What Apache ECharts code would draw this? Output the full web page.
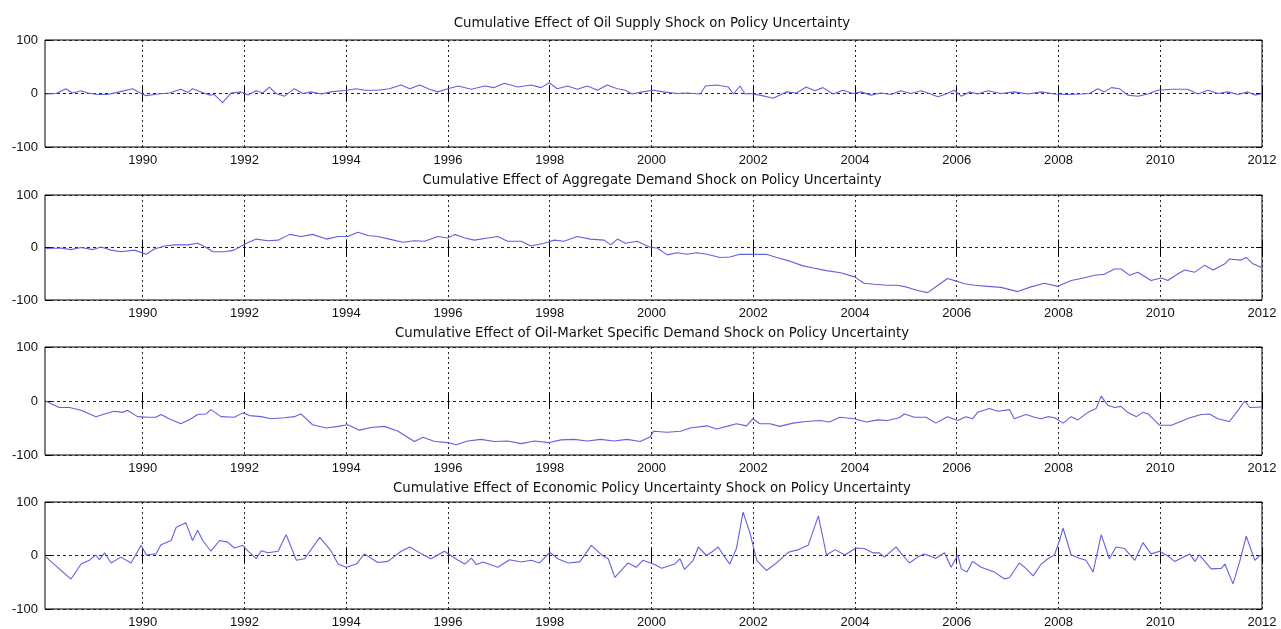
<!DOCTYPE html>
<html>
<head>
<meta charset="utf-8">
<script src="https://cdn.jsdelivr.net/npm/echarts@6/dist/echarts.min.js"></script>
<style>html,body{margin:0;padding:0;background:#fff;}#c{width:1281px;height:629px;}</style>
</head>
<body>
<div id="c"></div>
<script>
// ---- Data (decimal year, value) ----
const titles = [
  'Cumulative Effect of Oil Supply Shock on Policy Uncertainty',
  'Cumulative Effect of Aggregate Demand Shock on Policy Uncertainty',
  'Cumulative Effect of Oil-Market Specific Demand Shock on Policy Uncertainty',
  'Cumulative Effect of Economic Policy Uncertainty Shock on Policy Uncertainty'
];
const yearTicks = [1990, 1992, 1994, 1996, 1998, 2000, 2002, 2004, 2006, 2008, 2010, 2012];
const yTicks = [-100, 0, 100];

const oilSupply = [
  [1988.1,-1],[1988.3,0],[1988.49,9],[1988.62,1],[1988.79,5],[1988.92,1],[1989.11,-2],[1989.31,-2],
  [1989.54,3],[1989.8,9],[1989.97,0],[1990.07,-4],[1990.3,-1],[1990.52,1],[1990.75,8],[1990.89,2],
  [1990.98,9],[1991.15,3],[1991.31,-3],[1991.41,-2],[1991.57,-17],[1991.74,1],[1991.93,3],[1992.07,-3],
  [1992.23,5],[1992.36,1],[1992.49,12],[1992.62,0],[1992.79,-5],[1992.98,9],[1993.15,0],[1993.31,3],
  [1993.51,-1],[1993.7,3],[1994.0,6],[1994.2,9],[1994.36,6],[1994.62,6],[1994.85,9],[1995.08,16],
  [1995.25,9],[1995.44,16],[1995.64,8],[1995.8,3],[1996.0,9],[1996.2,14],[1996.46,8],[1996.72,14],
  [1996.91,11],[1997.11,19],[1997.37,12],[1997.63,16],[1997.83,11],[1997.99,20],[1998.15,9],[1998.35,14],
  [1998.54,8],[1998.74,14],[1998.94,6],[1999.13,16],[1999.33,9],[1999.49,6],[1999.62,-1],[1999.82,3],
  [2000.04,6],[2000.24,3],[2000.5,0],[2000.7,1],[2000.96,-1],[2001.06,14],[2001.28,16],[2001.51,12],
  [2001.61,-1],[2001.74,14],[2001.84,-1],[2001.94,0],[2002.13,-3],[2002.39,-9],[2002.65,3],[2002.85,1],
  [2003.04,12],[2003.21,5],[2003.37,11],[2003.57,-1],[2003.76,6],[2003.96,0],[2004.12,3],[2004.31,-3],
  [2004.51,1],[2004.71,-2],[2004.9,5],[2005.1,0],[2005.3,5],[2005.46,0],[2005.63,-6],[2005.79,-1],
  [2005.95,6],[2006.09,-5],[2006.25,3],[2006.41,-1],[2006.61,5],[2006.87,0],[2007.13,3],[2007.4,-1],
  [2007.66,3],[2007.92,-1],[2008.18,-2],[2008.45,-1],[2008.61,0],[2008.77,9],[2008.9,3],[2009.04,11],
  [2009.2,9],[2009.36,-3],[2009.56,-5],[2009.76,-1],[2009.95,6],[2010.22,8],[2010.54,8],[2010.74,-1],
  [2010.94,6],[2011.13,0],[2011.33,3],[2011.53,-2],[2011.72,3],[2011.86,-3],[2012.0,0]
];

const aggDemand = [
  [1988.1,-2],[1988.39,-1],[1988.59,-4],[1988.79,0],[1989.02,-4],[1989.18,1],[1989.38,-5],[1989.57,-8],
  [1989.84,-5],[1990.07,-13],[1990.23,-3],[1990.43,3],[1990.62,5],[1990.89,5],[1991.08,8],[1991.25,0],
  [1991.38,-8],[1991.61,-8],[1991.8,-5],[1992.0,6],[1992.23,16],[1992.46,13],[1992.66,14],[1992.89,25],
  [1993.11,21],[1993.34,25],[1993.61,16],[1993.84,21],[1994.03,21],[1994.23,29],[1994.43,23],[1994.62,21],
  [1994.85,16],[1995.11,10],[1995.34,13],[1995.54,12],[1995.8,21],[1996.0,18],[1996.13,25],[1996.33,18],
  [1996.52,14],[1996.78,18],[1996.98,21],[1997.17,12],[1997.44,12],[1997.63,3],[1997.89,8],[1998.09,14],
  [1998.28,12],[1998.54,21],[1998.8,16],[1999.07,14],[1999.2,5],[1999.33,16],[1999.49,8],[1999.72,12],
  [1999.98,0],[2000.11,-1],[2000.31,-14],[2000.5,-10],[2000.7,-13],[2000.89,-10],[2001.09,-13],[2001.35,-19],
  [2001.54,-18],[2001.74,-13],[2002.0,-13],[2002.26,-13],[2002.46,-19],[2002.72,-26],[2002.98,-35],[2003.18,-39],
  [2003.44,-44],[2003.72,-48],[2003.99,-56],[2004.18,-68],[2004.38,-70],[2004.64,-72],[2004.84,-72],[2005.04,-76],
  [2005.23,-82],[2005.43,-86],[2005.63,-72],[2005.82,-59],[2005.99,-64],[2006.15,-69],[2006.35,-72],[2006.61,-74],
  [2006.87,-76],[2007.2,-84],[2007.46,-75],[2007.72,-68],[2007.99,-74],[2008.25,-63],[2008.45,-59],[2008.71,-53],
  [2008.9,-51],[2009.1,-41],[2009.23,-41],[2009.4,-53],[2009.56,-47],[2009.82,-63],[2010.02,-58],[2010.15,-63],
  [2010.35,-50],[2010.48,-43],[2010.68,-47],[2010.87,-34],[2011.04,-43],[2011.27,-31],[2011.36,-22],[2011.59,-24],
  [2011.69,-19],[2011.82,-31],[2011.99,-38]
];

const oilSpecific = [
  [1988.1,0],[1988.2,-5],[1988.36,-12],[1988.56,-12],[1988.79,-17],[1989.08,-29],[1989.25,-24],[1989.44,-19],
  [1989.61,-21],[1989.7,-17],[1989.9,-29],[1990.1,-30],[1990.26,-30],[1990.36,-25],[1990.52,-33],[1990.75,-42],
  [1990.95,-33],[1991.08,-25],[1991.25,-24],[1991.34,-16],[1991.54,-29],[1991.8,-30],[1991.97,-22],[1992.1,-27],
  [1992.33,-29],[1992.52,-33],[1992.79,-31],[1992.98,-29],[1993.11,-24],[1993.34,-44],[1993.61,-50],[1993.84,-47],
  [1994.03,-44],[1994.26,-54],[1994.49,-49],[1994.75,-47],[1995.02,-56],[1995.34,-75],[1995.51,-67],[1995.74,-75],
  [1996.0,-77],[1996.16,-81],[1996.39,-74],[1996.65,-71],[1996.91,-75],[1997.17,-74],[1997.44,-79],[1997.7,-74],
  [1997.99,-77],[1998.22,-72],[1998.48,-71],[1998.74,-74],[1999.0,-71],[1999.26,-74],[1999.52,-71],[1999.78,-75],
  [1999.98,-66],[2000.04,-56],[2000.31,-58],[2000.57,-56],[2000.76,-50],[2001.09,-46],[2001.28,-52],[2001.48,-47],
  [2001.67,-42],[2001.87,-46],[2001.99,-33],[2002.13,-42],[2002.33,-42],[2002.52,-47],[2002.78,-41],[2003.04,-38],
  [2003.31,-36],[2003.5,-39],[2003.7,-30],[2003.99,-33],[2004.22,-39],[2004.45,-35],[2004.64,-36],[2004.87,-31],
  [2004.97,-24],[2005.17,-30],[2005.4,-30],[2005.59,-41],[2005.82,-29],[2006.02,-36],[2006.18,-29],[2006.31,-33],
  [2006.41,-21],[2006.64,-14],[2006.81,-19],[2007.04,-16],[2007.13,-33],[2007.36,-25],[2007.53,-30],[2007.66,-33],
  [2007.79,-29],[2007.92,-31],[2008.09,-41],[2008.25,-29],[2008.38,-35],[2008.58,-21],[2008.74,-14],[2008.84,9],
  [2008.97,-8],[2009.1,-12],[2009.23,-10],[2009.36,-21],[2009.53,-29],[2009.66,-21],[2009.76,-24],[2009.99,-45],
  [2010.22,-45],[2010.45,-36],[2010.58,-31],[2010.81,-25],[2010.97,-24],[2011.13,-33],[2011.36,-38],[2011.5,-21],
  [2011.66,0],[2011.76,-12],[2012.0,-11]
];

const epuShock = [
  [1988.1,-3],[1988.59,-44],[1988.79,-16],[1988.95,-9],[1989.08,1],[1989.15,-8],[1989.25,5],[1989.38,-14],
  [1989.57,-3],[1989.77,-14],[1989.97,19],[1990.07,1],[1990.26,3],[1990.36,20],[1990.56,28],[1990.66,53],
  [1990.85,61],[1990.98,28],[1991.08,47],[1991.18,28],[1991.34,8],[1991.51,28],[1991.67,25],[1991.8,14],
  [1991.97,19],[1992.07,8],[1992.23,-6],[1992.33,9],[1992.46,5],[1992.66,8],[1992.82,39],[1993.02,-9],
  [1993.18,-6],[1993.48,34],[1993.7,9],[1993.84,-16],[1994.0,-22],[1994.2,-16],[1994.36,3],[1994.62,-13],
  [1994.82,-11],[1995.08,8],[1995.25,16],[1995.48,3],[1995.67,-6],[1995.93,8],[1996.2,-9],[1996.33,-16],
  [1996.46,-5],[1996.56,-17],[1996.69,-12],[1996.98,-22],[1997.21,-8],[1997.44,-12],[1997.64,-9],[1997.8,-14],
  [1998.0,6],[1998.16,-6],[1998.36,-14],[1998.59,-12],[1998.82,19],[1999.02,1],[1999.15,-6],[1999.28,-41],
  [1999.54,-14],[1999.7,-22],[1999.83,-9],[2000.06,-17],[2000.2,-24],[2000.46,-16],[2000.56,-6],[2000.65,-26],
  [2000.82,-9],[2000.92,16],[2001.08,0],[2001.18,6],[2001.31,16],[2001.44,-3],[2001.54,-16],[2001.67,13],
  [2001.8,81],[2001.93,44],[2002.07,-9],[2002.26,-28],[2002.43,-16],[2002.69,6],[2002.89,11],[2003.08,19],
  [2003.28,74],[2003.44,1],[2003.61,11],[2003.8,1],[2004.02,14],[2004.18,13],[2004.35,5],[2004.48,5],
  [2004.58,-3],[2004.81,16],[2004.9,5],[2005.07,-14],[2005.23,-3],[2005.36,3],[2005.59,-5],[2005.76,5],
  [2005.89,-22],[2006.02,1],[2006.09,-25],[2006.2,-31],[2006.31,-11],[2006.48,-22],[2006.74,-31],[2006.94,-44],
  [2007.04,-41],[2007.23,-14],[2007.36,-24],[2007.5,-38],[2007.66,-16],[2007.79,-6],[2007.92,1],[2008.02,28],
  [2008.09,51],[2008.25,1],[2008.41,-5],[2008.54,-9],[2008.68,-31],[2008.84,39],[2009.0,-6],[2009.13,16],
  [2009.3,13],[2009.5,-9],[2009.66,24],[2009.82,3],[2009.99,8],[2010.15,-1],[2010.28,-11],[2010.41,-5],
  [2010.58,3],[2010.68,-11],[2010.77,1],[2011.0,-25],[2011.2,-24],[2011.27,-16],[2011.43,-53],[2011.56,-12],
  [2011.69,36],[2011.86,-9],[2011.95,0],[2012.0,-1]
];

const seriesData = [oilSupply, aggDemand, oilSpecific, epuShock];

// ---- Layout ----
const xMin = 1988.08, xMax = 2012;
const gridTops = [40, 195, 347, 502];
const gridHeights = [107, 105, 108, 107];
const titleTops = [12, 169, 322, 477];
const plotLeft = 45, plotRight = 19;
const lineColor = '#6262dc';
const font = '"Liberation Sans", Arial, Helvetica, sans-serif';
const titleFont = '"DejaVu Sans", "Liberation Sans", sans-serif';

const grids = [], xAxes = [], yAxes = [], series = [], titleArr = [];
for (let i = 0; i < 4; i++) {
  grids.push({ left: plotLeft, right: plotRight, top: gridTops[i], height: gridHeights[i],
    show: true, borderColor: '#000', borderWidth: 1, backgroundColor: '#fff' });
  titleArr.push({ text: titles[i], left: 647, top: titleTops[i], textAlign: 'center',
    textStyle: { fontFamily: titleFont, fontSize: 13.3, fontWeight: 'normal', color: '#111' } });
  // bottom x axis (labels, ticks, grid lines)
  xAxes.push({ gridIndex: i, type: 'value', min: xMin, max: xMax, position: 'bottom',
    axisLine: { show: false },
    axisTick: { show: true, inside: true, length: 8, customValues: yearTicks, lineStyle: { color: '#000' } },
    axisLabel: { customValues: yearTicks, color: '#111', fontFamily: font, fontSize: 13, margin: 7,
      formatter: v => String(Math.round(v)), showMinLabel: true, showMaxLabel: true },
    splitLine: { show: true, lineStyle: { color: '#222', type: [2, 3], width: 1 } } });
  // top x axis (ticks only)
  xAxes.push({ gridIndex: i, type: 'value', min: xMin, max: xMax, position: 'top',
    axisLine: { show: false },
    axisTick: { show: true, inside: true, length: 8, customValues: yearTicks, lineStyle: { color: '#000' } },
    axisLabel: { show: false }, splitLine: { show: false } });
  // left y axis
  yAxes.push({ gridIndex: i, type: 'value', min: -100, max: 100, interval: 100, position: 'left',
    axisLine: { show: false },
    axisTick: { show: true, inside: true, length: 6, lineStyle: { color: '#000' } },
    axisLabel: { color: '#111', fontFamily: font, fontSize: 13, margin: 7 },
    splitLine: { show: true, lineStyle: { color: '#222', type: [3, 3], width: 1 } } });
  // right y axis
  yAxes.push({ gridIndex: i, type: 'value', min: -100, max: 100, interval: 100, position: 'right',
    axisLine: { show: false },
    axisTick: { show: true, inside: true, length: 6, lineStyle: { color: '#000' } },
    axisLabel: { show: false }, splitLine: { show: false } });
  series.push({ type: 'line', xAxisIndex: 2 * i, yAxisIndex: 2 * i, data: seriesData[i],
    showSymbol: false, symbol: 'none', animation: false,
    lineStyle: { color: lineColor, width: 1.1 } });
}

const chart = echarts.init(document.getElementById('c'), null, { renderer: 'canvas' });
chart.setOption({
  backgroundColor: '#fff',
  animation: false,
  title: titleArr,
  grid: grids,
  xAxis: xAxes,
  yAxis: yAxes,
  series: series
});
</script>
</body>
</html>
